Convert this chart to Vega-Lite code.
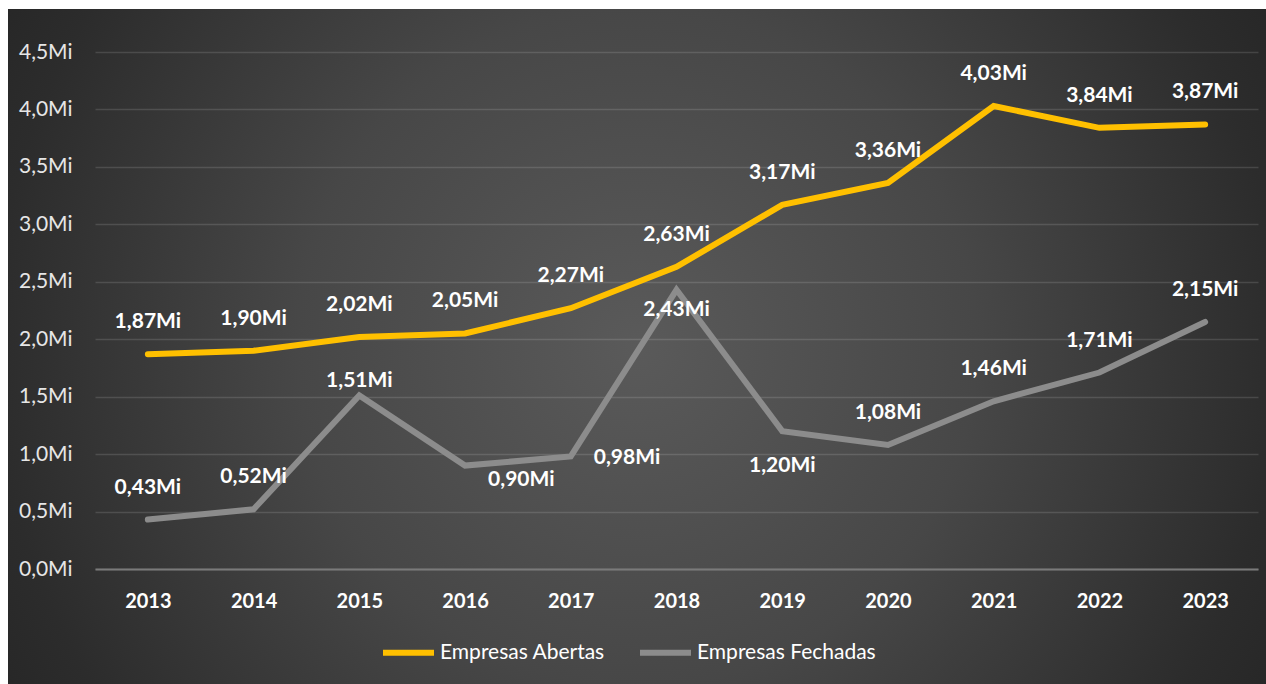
{
  "$schema": "https://vega.github.io/schema/vega-lite/v6.json",
  "width": 1258,
  "height": 675,
  "autosize": {"type": "none"},
  "padding": {"left": 8, "top": 9, "right": 0, "bottom": 0},
  "background": "#ffffff",
  "view": {
    "stroke": null,
    "fill": {
      "gradient": "radial",
      "x1": 0.5, "y1": 0.5, "r1": 0,
      "x2": 0.5, "y2": 0.5, "r2": 0.6,
      "stops": [
        {"offset": 0, "color": "#5a5a5a"},
        {"offset": 0.45, "color": "#474747"},
        {"offset": 0.85, "color": "#2c2c2c"},
        {"offset": 1, "color": "#252525"}
      ]
    }
  },
  "config": {
    "font": "Lato",
    "locale": {
      "number": {"decimal": ",", "thousands": ".", "grouping": [3], "currency": ["", "Mi"]}
    }
  },
  "data": {
    "values": [
      {"ano": 2013, "serie": "Empresas Abertas", "valor": 1.87},
      {"ano": 2014, "serie": "Empresas Abertas", "valor": 1.90},
      {"ano": 2015, "serie": "Empresas Abertas", "valor": 2.02},
      {"ano": 2016, "serie": "Empresas Abertas", "valor": 2.05},
      {"ano": 2017, "serie": "Empresas Abertas", "valor": 2.27},
      {"ano": 2018, "serie": "Empresas Abertas", "valor": 2.63},
      {"ano": 2019, "serie": "Empresas Abertas", "valor": 3.17},
      {"ano": 2020, "serie": "Empresas Abertas", "valor": 3.36},
      {"ano": 2021, "serie": "Empresas Abertas", "valor": 4.03},
      {"ano": 2022, "serie": "Empresas Abertas", "valor": 3.84},
      {"ano": 2023, "serie": "Empresas Abertas", "valor": 3.87},
      {"ano": 2013, "serie": "Empresas Fechadas", "valor": 0.43},
      {"ano": 2014, "serie": "Empresas Fechadas", "valor": 0.52},
      {"ano": 2015, "serie": "Empresas Fechadas", "valor": 1.51},
      {"ano": 2016, "serie": "Empresas Fechadas", "valor": 0.90},
      {"ano": 2017, "serie": "Empresas Fechadas", "valor": 0.98},
      {"ano": 2018, "serie": "Empresas Fechadas", "valor": 2.43},
      {"ano": 2019, "serie": "Empresas Fechadas", "valor": 1.20},
      {"ano": 2020, "serie": "Empresas Fechadas", "valor": 1.08},
      {"ano": 2021, "serie": "Empresas Fechadas", "valor": 1.46},
      {"ano": 2022, "serie": "Empresas Fechadas", "valor": 1.71},
      {"ano": 2023, "serie": "Empresas Fechadas", "valor": 2.15}
    ]
  },
  "encoding": {
    "x": {
      "field": "ano",
      "type": "ordinal",
      "scale": {"type": "point", "range": [87, 1250], "padding": 0.5},
      "axis": {
        "title": null,
        "orient": "bottom",
        "offset": -115,
        "labelAngle": 0,
        "domainColor": "#7a7a7a",
        "domainWidth": 2,
        "ticks": false,
        "tickSize": 0,
        "grid": false,
        "labelColor": "#ffffff",
        "labelFont": "Lato",
        "labelFontWeight": "bold",
        "labelFontSize": 20,
        "labelBaseline": "middle",
        "labelPadding": 32
      }
    },
    "y": {
      "field": "valor",
      "type": "quantitative",
      "scale": {"domain": [0, 4.5], "range": [560, 43], "nice": false},
      "axis": {
        "title": null,
        "orient": "left",
        "offset": -87,
        "values": [0, 0.5, 1, 1.5, 2, 2.5, 3, 3.5, 4, 4.5],
        "format": "$.1f",
        "domain": false,
        "ticks": false,
        "tickSize": 0,
        "grid": true,
        "gridColor": "#ffffff",
        "gridOpacity": 0.13,
        "gridWidth": 1.5,
        "labelColor": "#e6e6e6",
        "labelFont": "Lato",
        "labelFontSize": 21,
        "labelPadding": 23
      }
    }
  },
  "layer": [
    {
      "mark": {"type": "line", "strokeWidth": 6, "strokeCap": "round"},
      "encoding": {
        "color": {
          "field": "serie",
          "type": "nominal",
          "scale": {"domain": ["Empresas Abertas", "Empresas Fechadas"], "range": ["#FFC000", "#8C8C8C"]},
          "legend": {
            "orient": "none",
            "legendX": 372,
            "legendY": 615,
            "direction": "horizontal",
            "title": null,
            "symbolType": "stroke",
            "symbolSize": 2601,
            "symbolStrokeWidth": 6,
            "labelColor": "#ffffff",
            "labelFont": "Lato",
            "labelFontSize": 21,
            "labelLimit": 0,
            "labelOffset": 3,
            "columnPadding": 23,
            "padding": 0
          }
        }
      }
    },
    {
      "transform": [{"filter": "datum.serie == 'Empresas Abertas' || indexof([2015, 2016, 2017, 2018, 2019], datum.ano) < 0"}],
      "mark": {"type": "text", "color": "#ffffff", "fontWeight": "bold", "fontSize": 21, "font": "Lato", "baseline": "middle", "dy": -32},
      "encoding": {"text": {"field": "valor", "type": "quantitative", "format": "$.2f"}}
    },
    {
      "transform": [{"filter": "datum.serie == 'Empresas Fechadas' && datum.ano == 2015"}],
      "mark": {"type": "text", "color": "#ffffff", "fontWeight": "bold", "fontSize": 21, "font": "Lato", "baseline": "middle", "dy": -15},
      "encoding": {"text": {"field": "valor", "type": "quantitative", "format": "$.2f"}}
    },
    {
      "transform": [{"filter": "datum.serie == 'Empresas Fechadas' && datum.ano == 2016"}],
      "mark": {"type": "text", "color": "#ffffff", "fontWeight": "bold", "fontSize": 21, "font": "Lato", "baseline": "middle", "align": "left", "dx": 23, "dy": 14},
      "encoding": {"text": {"field": "valor", "type": "quantitative", "format": "$.2f"}}
    },
    {
      "transform": [{"filter": "datum.serie == 'Empresas Fechadas' && datum.ano == 2017"}],
      "mark": {"type": "text", "color": "#ffffff", "fontWeight": "bold", "fontSize": 21, "font": "Lato", "baseline": "middle", "align": "left", "dx": 23, "dy": 2},
      "encoding": {"text": {"field": "valor", "type": "quantitative", "format": "$.2f"}}
    },
    {
      "transform": [{"filter": "datum.serie == 'Empresas Fechadas' && datum.ano == 2018"}],
      "mark": {"type": "text", "color": "#ffffff", "fontWeight": "bold", "fontSize": 21, "font": "Lato", "baseline": "middle", "dy": 20},
      "encoding": {"text": {"field": "valor", "type": "quantitative", "format": "$.2f"}}
    },
    {
      "transform": [{"filter": "datum.serie == 'Empresas Fechadas' && datum.ano == 2019"}],
      "mark": {"type": "text", "color": "#ffffff", "fontWeight": "bold", "fontSize": 21, "font": "Lato", "baseline": "middle", "dy": 35},
      "encoding": {"text": {"field": "valor", "type": "quantitative", "format": "$.2f"}}
    }
  ]
}
